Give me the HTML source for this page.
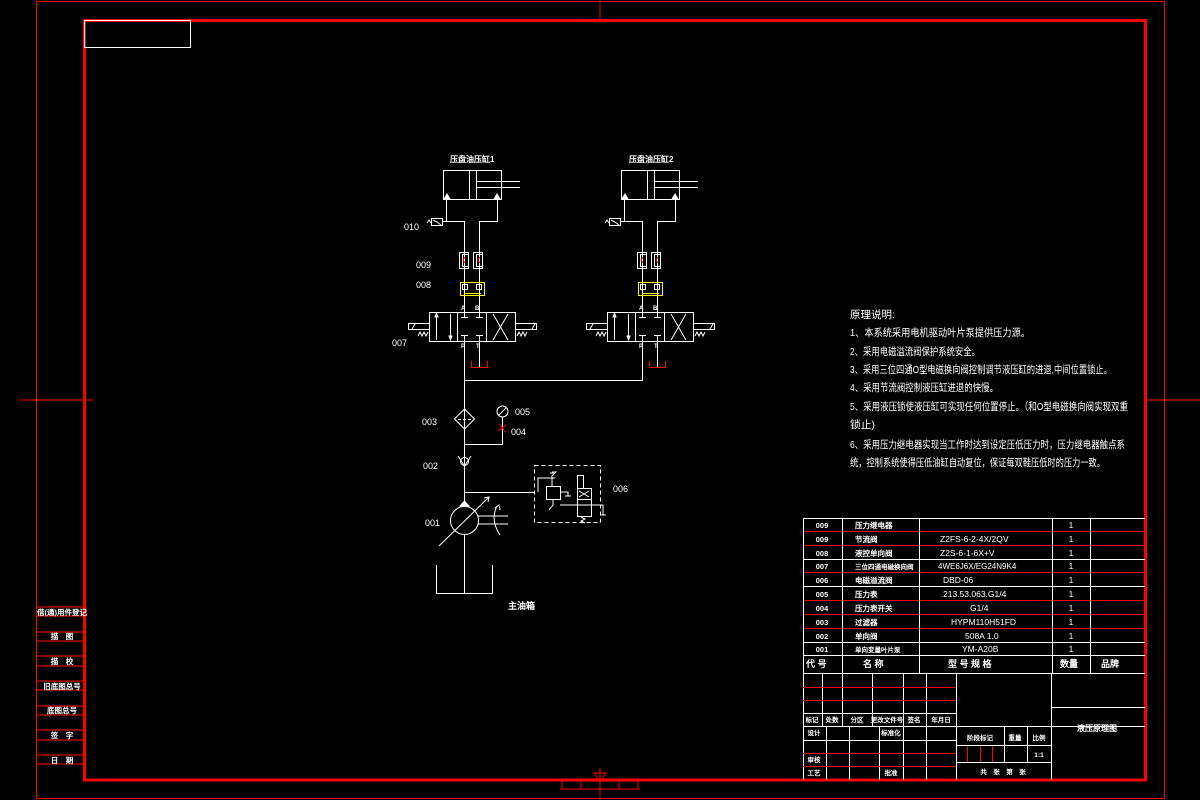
<!DOCTYPE html>
<html><head><meta charset="utf-8"><style>
html,body{margin:0;padding:0;background:#000;}
svg{display:block;}
text{font-family:"Liberation Sans","WenQuanYi Zen Hei",sans-serif;fill:#fff;}
</style></head><body>
<svg width="1200" height="800" viewBox="0 0 1200 800" xmlns="http://www.w3.org/2000/svg">
<rect width="1200" height="800" fill="#000"/>
<!-- frames -->
<g stroke="#f00" fill="none">
<rect x="36.5" y="1.5" width="1128" height="797" stroke-width="1"/>
<rect x="84.5" y="20.5" width="1061" height="759.5" stroke-width="3"/>
<line x1="600" y1="0" x2="600" y2="22" stroke-width="1"/>
<line x1="20" y1="400" x2="93" y2="400" stroke-width="1"/>
<line x1="1145" y1="400" x2="1200" y2="400" stroke-width="1"/>
<line x1="600" y1="768" x2="600" y2="800" stroke-width="1"/>
<path d="M594 773 L606 773 L600 782 Z" stroke-width="1"/>
<line x1="560" y1="789" x2="640" y2="789" stroke-width="1"/>
<line x1="562" y1="780" x2="562" y2="789"/><line x1="581" y1="780" x2="581" y2="789"/>
<line x1="619" y1="780" x2="619" y2="789"/><line x1="638" y1="780" x2="638" y2="789"/>
<!-- left strip -->
<line x1="36" y1="607" x2="84" y2="607"/><line x1="36" y1="616" x2="84" y2="616"/>
<line x1="36" y1="632" x2="84" y2="632"/><line x1="36" y1="641" x2="84" y2="641"/>
<line x1="36" y1="656" x2="84" y2="656"/><line x1="36" y1="666" x2="84" y2="666"/>
<line x1="36" y1="681" x2="84" y2="681"/><line x1="36" y1="690" x2="84" y2="690"/>
<line x1="36" y1="706" x2="84" y2="706"/><line x1="36" y1="715" x2="84" y2="715"/>
<line x1="36" y1="730" x2="84" y2="730"/><line x1="36" y1="740" x2="84" y2="740"/>
<line x1="36" y1="755" x2="84" y2="755"/><line x1="36" y1="764" x2="84" y2="764"/>
</g>
<g font-size="7.5" text-anchor="middle" font-weight="bold">
<text x="62" y="615">借(通)用件登记</text>
<text x="62" y="639">描　图</text>
<text x="62" y="664">描　校</text>
<text x="62" y="689">旧底图总号</text>
<text x="62" y="713">底图总号</text>
<text x="62" y="738">签　字</text>
<text x="62" y="763">日　期</text>
</g>
<rect x="84.5" y="20.5" width="106" height="27" stroke="#fff" fill="none"/>

<!-- hydraulic unit 1 & 2 -->
<defs>
<g id="unit" stroke="#fff" fill="none" stroke-width="1">
<rect x="443.5" y="170.5" width="58" height="29"/>
<line x1="469.5" y1="170" x2="469.5" y2="199"/><line x1="476.5" y1="170" x2="476.5" y2="199"/>
<line x1="476" y1="181.5" x2="520" y2="181.5"/><line x1="476" y1="187.5" x2="520" y2="187.5"/>
<path d="M444 199 L447 194 L450 199Z M494 199 L497 194 L500 199Z" fill="#fff"/>
<path d="M446.5 199 V221.5 H464.5 V312"/>
<path d="M497.5 199 V221.5 H479.5 V312"/>
<line x1="442" y1="221.5" x2="446" y2="221.5"/>
<rect x="431.5" y="218.5" width="11" height="7"/>
<path d="M427 223 l2 -3 l2 3 M433 220 l4 2 l4 3"/>
<!-- 009 -->
<rect x="459.5" y="252.5" width="9" height="16"/><rect x="462.5" y="254.5" width="6" height="12"/>
<rect x="473.5" y="252.5" width="9" height="16"/><rect x="476.5" y="254.5" width="6" height="12"/>
<path d="M465 257 l-2 3 l2 3 M480 257 l-2 3 l2 3" stroke="#f00"/>
<!-- 008 -->
<rect x="460.5" y="282.5" width="24" height="13" stroke="#ff0"/>
<rect x="462.5" y="284.5" width="5" height="5"/><rect x="476.5" y="284.5" width="5" height="5"/>
<line x1="464" y1="293.5" x2="481" y2="293.5" stroke="#ff0"/>
<!-- 007 valve -->
<rect x="429.5" y="312.5" width="86" height="29"/>
<line x1="457.5" y1="312" x2="457.5" y2="341"/><line x1="486.5" y1="312" x2="486.5" y2="341"/>
<line x1="436.5" y1="314" x2="436.5" y2="340"/><line x1="450.5" y1="314" x2="450.5" y2="340"/>
<path d="M435 317 L436.5 313 L438 317Z M449 336 L450.5 340 L452 336Z" fill="#fff"/>
<path d="M464.5 313 V317 M461 317.5 H468 M479.5 313 V317 M476 317.5 H483"/>
<path d="M464.5 341 V336 M461 335.5 H468 M479.5 341 V336 M476 335.5 H483"/>
<path d="M493 340 L508 314 M493 314 L508 340"/>
<rect x="408.5" y="323.5" width="21" height="6"/><rect x="515.5" y="323.5" width="21" height="6"/>
<path d="M412 329 l3 -5 M532 329 l3 -5"/>
<path d="M418 336 l2 -4 l2 4 l2 -4 l2 4 l2 -4 M517 336 l2 -4 l2 4 l2 -4 l2 4 l2 -4"/>
<line x1="479.5" y1="341" x2="479.5" y2="367"/>
<path d="M471.5 361 V367.5 H487.5 V361" stroke="#f00"/>
</g>
</defs>
<use href="#unit"/>
<use href="#unit" transform="translate(178,0)"/>
<g font-size="8" font-weight="bold">
<text x="450" y="162">压盘油压缸1</text><text x="629" y="162">压盘油压缸2</text>
<text x="461" y="310" font-size="6">A</text><text x="475" y="310" font-size="6">B</text>
<text x="461" y="348" font-size="6">P</text><text x="476" y="348" font-size="6">T</text>
<text x="639" y="310" font-size="6">A</text><text x="653" y="310" font-size="6">B</text>
<text x="639" y="348" font-size="6">P</text><text x="654" y="348" font-size="6">T</text>
</g>
<g font-size="9">
<text x="404" y="230">010</text><text x="416" y="268">009</text><text x="416" y="288">008</text>
<text x="392" y="346">007</text><text x="422" y="425">003</text><text x="515" y="415">005</text>
<text x="511" y="435">004</text><text x="423" y="469">002</text><text x="613" y="492">006</text>
<text x="425" y="526">001</text>
</g>
<!-- pump circuit -->
<g stroke="#fff" fill="none" stroke-width="1">
<path d="M464.5 341 V380.5 H642.5 V341"/>
<line x1="464.5" y1="380" x2="464.5" y2="506"/>
<path d="M464.5 409 L474.5 419 L464.5 429 L454.5 419Z"/>
<line x1="458" y1="419.5" x2="471" y2="419.5" stroke-dasharray="3,2"/>
<circle cx="502.5" cy="411.5" r="5.5"/><line x1="499" y1="415" x2="506" y2="408"/>
<path d="M502.5 417 V444.5 H464.5"/>
<path d="M498 431 L506 425 M500 424 L505 432" stroke="#f00"/>
<circle cx="464.5" cy="461.5" r="4"/><path d="M458 456 L464.5 466 L471 456"/>
<path d="M464.5 492.5 H535"/>
<circle cx="464.5" cy="520.5" r="14"/>
<path d="M460 506 L464.5 501 L469 506Z" fill="#fff"/>
<path d="M439 546 L489 497"/><path d="M484 498 L489 497 L488 502"/>
<path d="M478 516 H508 M478 524 H508"/>
<path d="M497 506 Q490 520 500 535"/><path d="M495 508 L499 505 L500 510"/>
<line x1="464.5" y1="534" x2="464.5" y2="593"/>
<path d="M436.5 565 V593.5 H492.5 V565"/>
<rect x="534.5" y="465.5" width="66" height="57" stroke-dasharray="4,3"/>
<rect x="546.5" y="486.5" width="14" height="13"/>
<path d="M552 486 V476 L556 472 L552 472 M538 492 V478 H555 M550 473 h4"/>
<path d="M560 492 h8 v4 M565 496 h6"/>
<path d="M553 499 v6 l-4 5 M560 505 h43 V515 M600 515 h6"/>
<rect x="577.5" y="488.5" width="14" height="28"/><rect x="577.5" y="475.5" width="6" height="13"/>
<line x1="577" y1="499.5" x2="591" y2="499.5"/><path d="M579 491 l10 6 M589 491 l-10 6"/>
<path d="M581 517 l4 2 l-4 2 l4 2"/>
</g>
<text x="508" y="609" font-size="9" font-weight="bold">主油箱</text>

<!-- description -->
<g font-size="10.5">
<text x="850" y="318">原理说明:</text>
<text x="850" y="336" textLength="180" lengthAdjust="spacingAndGlyphs">1、本系统采用电机驱动叶片泵提供压力源。</text>
<text x="850" y="355" textLength="130" lengthAdjust="spacingAndGlyphs">2、采用电磁溢流阀保护系统安全。</text>
<text x="850" y="373" textLength="262" lengthAdjust="spacingAndGlyphs">3、采用三位四通O型电磁换向阀控制调节液压缸的进退,中间位置锁止。</text>
<text x="850" y="391" textLength="148" lengthAdjust="spacingAndGlyphs">4、采用节流阀控制液压缸进退的快慢。</text>
<text x="850" y="410" textLength="278" lengthAdjust="spacingAndGlyphs">5、采用液压锁使液压缸可实现任何位置停止。（和O型电磁换向阀实现双重</text>
<text x="850" y="428" textLength="25" lengthAdjust="spacingAndGlyphs">锁止)</text>
<text x="850" y="448" textLength="275" lengthAdjust="spacingAndGlyphs">6、采用压力继电器实现当工作时达到设定压低压力时，压力继电器触点系</text>
<text x="850" y="466" textLength="255" lengthAdjust="spacingAndGlyphs">统，控制系统使得压低油缸自动复位，保证每双鞋压低时的压力一致。</text>
</g>

<!-- parts table -->
<g stroke-width="1" fill="none">
<line x1="803" y1="518.5" x2="1145" y2="518.5" stroke="#fff"/>
<g stroke="#f00">
<line x1="803" y1="531.5" x2="1145" y2="531.5"/><line x1="803" y1="545.5" x2="1145" y2="545.5"/>
<line x1="803" y1="572.5" x2="1145" y2="572.5"/><line x1="803" y1="600.5" x2="1145" y2="600.5"/>
<line x1="803" y1="614.5" x2="1145" y2="614.5"/><line x1="803" y1="628.5" x2="1145" y2="628.5"/>
</g>
<g stroke="#fff">
<line x1="803" y1="559.5" x2="1145" y2="559.5"/><line x1="803" y1="586.5" x2="1145" y2="586.5"/>
<line x1="803" y1="642.5" x2="1145" y2="642.5"/><line x1="803" y1="655.5" x2="1145" y2="655.5"/>
<line x1="803" y1="673.5" x2="1145" y2="673.5"/>
<line x1="803.5" y1="518" x2="803.5" y2="780"/>
<line x1="842.5" y1="518" x2="842.5" y2="673"/><line x1="919.5" y1="518" x2="919.5" y2="673"/>
<line x1="1052.5" y1="518" x2="1052.5" y2="673"/><line x1="1090.5" y1="518" x2="1090.5" y2="673"/>
<!-- title block -->
<line x1="822.5" y1="673" x2="822.5" y2="726"/><line x1="842.5" y1="673" x2="842.5" y2="726"/>
<line x1="872.5" y1="673" x2="872.5" y2="726"/><line x1="903.5" y1="673" x2="903.5" y2="780"/>
<line x1="926.5" y1="673" x2="926.5" y2="780"/><line x1="956.5" y1="673" x2="956.5" y2="780"/>
<line x1="1051.5" y1="673" x2="1051.5" y2="780"/>
<line x1="803" y1="713.5" x2="956" y2="713.5"/><line x1="803" y1="726.5" x2="1145" y2="726.5"/>
<line x1="803" y1="740.5" x2="956" y2="740.5"/>
<line x1="826.5" y1="726" x2="826.5" y2="780"/><line x1="849.5" y1="726" x2="849.5" y2="780"/>
<line x1="879.5" y1="726" x2="879.5" y2="780"/>
<line x1="956" y1="745.5" x2="1051" y2="745.5"/><line x1="956" y1="762.5" x2="1051" y2="762.5"/>
<line x1="956" y1="726.5" x2="1051" y2="726.5"/>
<line x1="1004.5" y1="726" x2="1004.5" y2="762"/><line x1="1027.5" y1="726" x2="1027.5" y2="762"/>
<line x1="1051" y1="707.5" x2="1145" y2="707.5"/>
</g>
<g stroke="#f00">
<line x1="803" y1="687.5" x2="956" y2="687.5"/><line x1="803" y1="700.5" x2="956" y2="700.5"/>
<line x1="803" y1="753.5" x2="956" y2="753.5"/><line x1="803" y1="766.5" x2="956" y2="766.5"/>
<line x1="967.5" y1="746" x2="967.5" y2="762"/><line x1="980.5" y1="746" x2="980.5" y2="762"/>
<line x1="992.5" y1="746" x2="992.5" y2="762"/>
</g>
</g>
<g font-size="7.5" font-weight="bold">
<g text-anchor="middle">
<text x="822" y="528">009</text><text x="822" y="542">009</text><text x="822" y="556">008</text>
<text x="822" y="569">007</text><text x="822" y="583">006</text><text x="822" y="597">005</text>
<text x="822" y="611">004</text><text x="822" y="625">003</text><text x="822" y="639">002</text>
<text x="822" y="652">001</text>
</g>
<text x="855" y="528">压力继电器</text><text x="855" y="542">节流阀</text><text x="855" y="556">液控单向阀</text>
<text x="855" y="569" font-size="6.5">三位四通电磁换向阀</text><text x="855" y="583">电磁溢流阀</text><text x="855" y="597">压力表</text>
<text x="855" y="611">压力表开关</text><text x="855" y="625">过滤器</text><text x="855" y="639">单向阀</text>
<text x="855" y="652" font-size="6.5">单向变量叶片泵</text>
</g>
<g font-size="8.5">
<text x="940" y="542">Z2FS-6-2-4X/2QV</text><text x="940" y="556">Z2S-6-1-6X+V</text>
<text x="938" y="569" font-size="8">4WE6J6X/EG24N9K4</text><text x="943" y="583">DBD-06</text>
<text x="943" y="597">213.53.063.G1/4</text><text x="970" y="611">G1/4</text>
<text x="951" y="625">HYPM110H51FD</text><text x="965" y="639">508A 1.0</text>
<text x="962" y="652">YM-A20B</text>
<g text-anchor="middle">
<text x="1071" y="528">1</text><text x="1071" y="542">1</text><text x="1071" y="556">1</text>
<text x="1071" y="569">1</text><text x="1071" y="583">1</text><text x="1071" y="597">1</text>
<text x="1071" y="611">1</text><text x="1071" y="625">1</text><text x="1071" y="639">1</text>
<text x="1071" y="652">1</text>
</g>
</g>
<g font-size="9" font-weight="bold">
<text x="806" y="667">代 号</text><text x="863" y="667">名 称</text><text x="948" y="667">型 号 规 格</text>
<text x="1060" y="667">数量</text><text x="1101" y="667">品牌</text>
</g>
<g font-size="6.5" font-weight="bold" text-anchor="middle">
<text x="812" y="722">标记</text><text x="832" y="722">处数</text><text x="857" y="722">分区</text>
<text x="887" y="722">更改文件号</text><text x="914" y="722">签名</text><text x="941" y="722">年月日</text>
<text x="814" y="735">设计</text><text x="891" y="735">标准化</text>
<text x="814" y="762">审核</text><text x="814" y="775">工艺</text><text x="891" y="775">批准</text>
<text x="980" y="740">阶段标记</text><text x="1015" y="740">重量</text><text x="1039" y="740">比例</text>
<text x="1039" y="757">1:1</text>
<text x="1003" y="774">共　张　第　张</text>
<text x="1097" y="731" font-size="8">液压原理图</text>
</g>
</svg>
</body></html>
